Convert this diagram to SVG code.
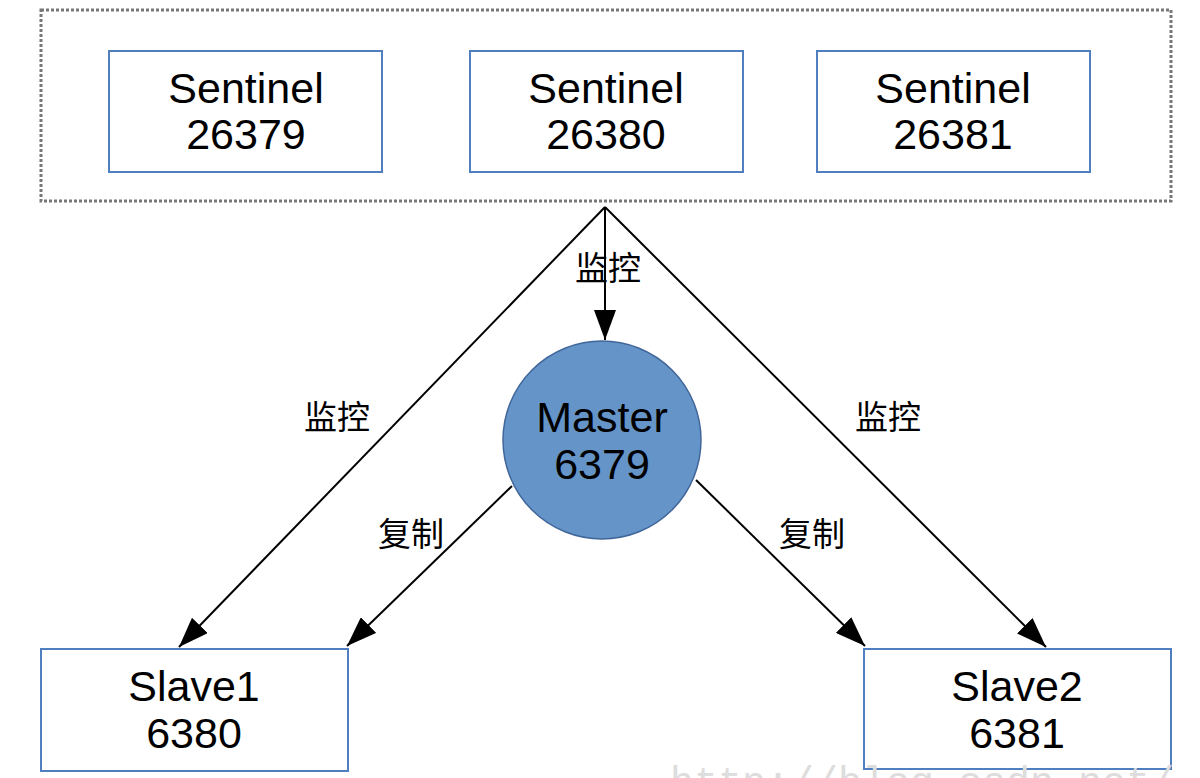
<svg xmlns="http://www.w3.org/2000/svg" width="1200" height="778" viewBox="0 0 1200 778">
<style>
.box{fill:#fff;stroke:#4f7fbe;stroke-width:2}
.t{font-family:"Liberation Sans",Arial,sans-serif;font-size:43px;fill:#000;text-anchor:middle}
.lbl{font-family:"Noto Sans CJK SC","Liberation Sans",sans-serif;font-size:33px;fill:#000;text-anchor:middle}
.c{stroke:#000;stroke-width:2;fill:none;marker-end:url(#ah)}
</style>
<defs>
<marker id="ah" viewBox="0 0 30 22" refX="30" refY="11" markerWidth="30" markerHeight="22" markerUnits="userSpaceOnUse" orient="auto">
<path d="M0,0 L30,11 L0,22 Z" fill="#000"/>
</marker>
</defs>
<rect width="1200" height="778" fill="#fff"/>
<g id="sentinels">
<rect x="41" y="10" width="1130" height="191" fill="none" stroke="#777" stroke-width="3" stroke-dasharray="3,2"/>
</g>
<g id="sentinel1">
<rect class="box" x="109" y="51" width="273" height="121"/>
<text class="t" x="246" y="103">Sentinel</text>
<text class="t" x="246" y="149">26379</text>
</g>
<g id="sentinel2">
<rect class="box" x="470" y="51" width="273" height="121"/>
<text class="t" x="606" y="103">Sentinel</text>
<text class="t" x="606" y="149">26380</text>
</g>
<g id="sentinel3">
<rect class="box" x="817" y="51" width="273" height="121"/>
<text class="t" x="953" y="103">Sentinel</text>
<text class="t" x="953" y="149">26381</text>
</g>
<g id="connectors">
<line class="c" x1="605" y1="207" x2="605" y2="340"/>
<line class="c" x1="605" y1="207" x2="179" y2="647"/>
<line class="c" x1="605" y1="207" x2="1046" y2="647"/>
<line class="c" x1="512" y1="486" x2="347" y2="646"/>
<line class="c" x1="696" y1="480" x2="865" y2="646"/>
<text class="lbl" x="608" y="280">监控</text>
<text class="lbl" x="337" y="429">监控</text>
<text class="lbl" x="888" y="429">监控</text>
<text class="lbl" x="411" y="546">复制</text>
<text class="lbl" x="812" y="546">复制</text>
</g>
<g id="master">
<circle cx="602" cy="440" r="99" fill="#6594c8" stroke="#41669a" stroke-width="1.5"/>
<text class="t" x="602" y="432">Master</text>
<text class="t" x="602" y="479">6379</text>
</g>
<g id="slave1">
<rect class="box" x="41" y="649" width="307" height="122"/>
<text class="t" x="194" y="701">Slave1</text>
<text class="t" x="194" y="748">6380</text>
</g>
<g id="slave2">
<rect class="box" x="864" y="649" width="307" height="120"/>
<text class="t" x="1017" y="701">Slave2</text>
<text class="t" x="1017" y="748">6381</text>
</g>
<text x="670" y="795" font-family="Liberation Mono,monospace" font-size="40" fill="#ddd">http://blog.csdn.net/</text>
</svg>
